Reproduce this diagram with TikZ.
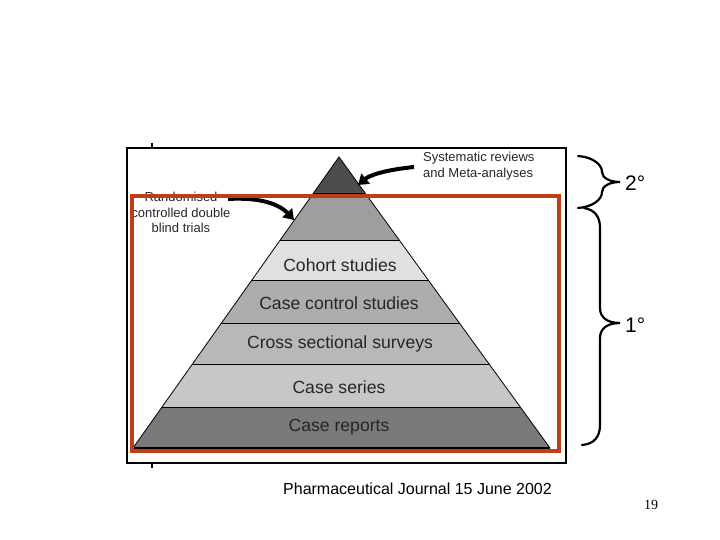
\documentclass[tikz,border=0pt]{standalone}
\usepackage{fontspec}
\setmainfont{Liberation Sans}
\newfontfamily\serifnum{Liberation Serif}
\usetikzlibrary{arrows.meta}
\definecolor{framered}{RGB}{190,62,22}
\definecolor{band1}{gray}{0.30}
\definecolor{band2}{gray}{0.62}
\definecolor{band3}{gray}{0.88}
\definecolor{band4}{gray}{0.68}
\definecolor{band5}{gray}{0.72}
\definecolor{band6}{gray}{0.78}
\definecolor{band7}{gray}{0.48}
\definecolor{txtgray}{gray}{0.15}
\tikzset{
  bandline/.style={draw=black, line width=0.8pt},
  bandlabel/.style={text=txtgray, font=\fontsize{17.6}{19}\selectfont, inner sep=0pt},
  smalllabel/.style={text=txtgray, font=\fontsize{13}{15.5}\selectfont, align=center, inner sep=0pt},
  fatarrow/.style={line width=4pt, -{Triangle[length=10pt,width=13pt]}},
  bracepath/.style={line width=2.2pt, line cap=round},
  deglabel/.style={font=\fontsize{21}{24}\selectfont, inner sep=0pt, anchor=west}
}
\begin{document}
\begin{tikzpicture}[x=1pt,y=-1pt]
\useasboundingbox (0,0) rectangle (720,540);
% photo frame
\draw[line width=1.2pt] (127,148) rectangle (566,463);
\draw[line width=1.2pt] (152,143) -- (152,148);
\draw[line width=1.2pt] (152,463) -- (152,468);
% pyramid bands: apex (339,157), base (133,448)-(550,448)
\coordinate (apex) at (339,157);
\coordinate (bl) at (133,448);
\coordinate (br) at (550,448);
\foreach \ya/\yb/\col in {157/193/band1,193/240/band2,240/280/band3,280/323/band4,323/364/band5,364/407/band6,407/448/band7}{
  \fill[\col] ({339-(\ya-157)/291*206},\ya) -- ({339+(\ya-157)/291*211},\ya) -- ({339+(\yb-157)/291*211},\yb) -- ({339-(\yb-157)/291*206},\yb) -- cycle;
}
\foreach \yy in {193,240,280,323,364,407}{
  \draw[bandline] ({339-(\yy-157)/291*206},\yy) -- ({339+(\yy-157)/291*211},\yy);
}
\draw[bandline] (bl) -- (apex) -- (br);
\draw[line width=2pt] (bl) -- (br);
% band labels
\node[bandlabel] (coh) at (340,265) {Cohort studies};
\node[bandlabel] (cc) at (339,303) {Case control studies};
\node[bandlabel] (cs) at (340,344) {Cross sectional surveys};
\node[bandlabel] (ser) at (339,387) {Case series};
\node[bandlabel] (rep) at (339,427) {Case reports};
% side labels and arrows
\node[smalllabel, anchor=north west, align=left] (sys) at (423,152) {Systematic reviews\\and Meta-analyses};
\coordinate (systip) at (358,185);
\draw[fatarrow] (414,167) .. controls (385,170) and (370,175) .. (systip);
\node[smalllabel, anchor=north] (rct) at (181,192) {Randomised\\controlled double\\blind trials};
\coordinate (rcttip) at (294,220);
\draw[fatarrow] (228,199) .. controls (262,197) and (280,205) .. (rcttip);
% red box
\draw[framered, line width=4pt] (132,196) rectangle (559,451);
% braces
\draw[bracepath] (578,156) .. controls (592,157) and (602,164) .. (602,172) .. controls (602,178) and (610,182) .. (620,182) .. controls (610,182) and (602,186) .. (602,192) .. controls (602,200) and (592,207) .. (578,208);
\draw[bracepath] (584,208) .. controls (596,210) and (600,218) .. (600,228) -- (600,308) .. controls (600,318) and (608,323) .. (620,323) .. controls (608,323) and (600,328) .. (600,338) -- (600,425) .. controls (600,437) and (594,444) .. (582,445);
\node[deglabel] (two) at (625,183) {2°};
\node[deglabel] (one) at (625,325) {1°};
% footer
\node[font=\fontsize{16}{18}\selectfont, anchor=west, inner sep=0pt] (src) at (283,489) {Pharmaceutical Journal 15 June 2002};
\node[font=\serifnum\fontsize{14}{16}\selectfont, anchor=west, inner sep=0pt] (pg) at (644,505) {19};
\end{tikzpicture}
\end{document}
